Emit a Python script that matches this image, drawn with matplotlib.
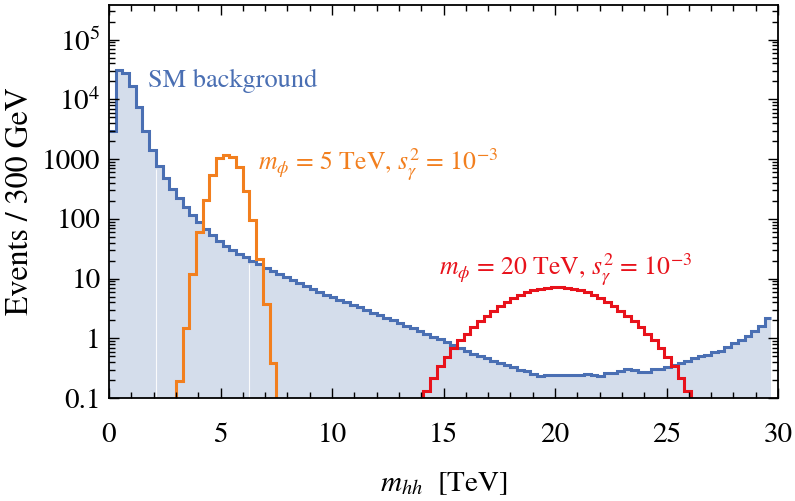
import numpy as np
import matplotlib
matplotlib.use('Agg')
from matplotlib import pyplot as plt
from matplotlib.ticker import FixedLocator, FixedFormatter, LogLocator, NullFormatter, MultipleLocator

plt.rcParams['font.family'] = ['STIXGeneral', 'DejaVu Serif']
plt.rcParams['mathtext.fontset'] = 'stix'

# histogram data, 300 GeV bins
bin_width = 0.3

# SM background, bins starting at 0 TeV
sm_start = 0.0
sm_background = [2900, 31000, 28000, 17000, 7500, 3000, 1400, 760, 480, 320,
                 220, 160, 118, 88, 68, 53, 42, 35, 30, 26,
                 22.6, 19.8, 17.4, 15.3, 13.5, 12.0, 10.6, 9.4, 8.4, 7.5,
                 6.7, 6.0, 5.4, 4.9, 4.4, 4.0, 3.6, 3.3, 3.0, 2.7,
                 2.45, 2.2, 2.0, 1.8, 1.62, 1.46, 1.32, 1.19, 1.07, 0.96,
                 0.86, 0.76, 0.68, 0.61, 0.55, 0.50, 0.46, 0.42, 0.39, 0.36,
                 0.33, 0.30, 0.28, 0.25, 0.23, 0.24, 0.245, 0.24, 0.24, 0.245,
                 0.24, 0.25, 0.24, 0.23, 0.26, 0.26, 0.28, 0.31, 0.30, 0.27,
                 0.27, 0.31, 0.31, 0.33, 0.36, 0.39, 0.42, 0.46, 0.50, 0.53,
                 0.58, 0.62, 0.72, 0.82, 0.95, 1.08, 1.30, 1.6, 2.2]

# m_phi = 5 TeV signal
sig5_start = 2.7
sig5 = [0.03, 0.19, 1.5, 12, 60, 210, 550, 1060, 1170, 1080,
        725, 295, 96, 21, 3.7, 0.38, 0.03]

# m_phi = 20 TeV signal
sig20_start = 13.8
sig20 = [0.06, 0.13, 0.22, 0.34, 0.48, 0.68, 0.92, 1.2, 1.55, 1.95,
         2.4, 2.9, 3.5, 4.1, 4.8, 5.4, 6.0, 6.5, 6.8, 7.0,
         7.1, 7.1, 7.0, 6.8, 6.5, 6.0, 5.4, 4.8, 4.1, 3.5,
         2.9, 2.4, 1.95, 1.55, 1.2, 0.92, 0.68, 0.48, 0.34, 0.22,
         0.13, 0.06]

# faint gaps in the filled background (bin edges, TeV)
fill_gaps = [2.1, 6.3]

y_ticks = [0.1, 1, 10, 100, 1000, 1e4, 1e5]
y_tick_labels = ['0.1', '1', '10', '100', '1000', '$10^4$', '$10^5$']
x_ticks = [0, 5, 10, 15, 20, 25, 30]


def edges(start, vals):
    return np.round(start + bin_width * np.arange(len(vals) + 1), 3)


blue = '#4a6fb3'
fill = '#d4ddeb'
orange = '#f27f1e'
red = '#e8121b'

fig = plt.figure(figsize=(7.95, 5.01), dpi=100)
ax = fig.add_axes([109 / 795, 1 - 398 / 501, 669 / 795, 393 / 501])

sm_edges = edges(sm_start, sm_background)
ax.stairs(sm_background, sm_edges, fill=True, baseline=1e-3, color=fill, lw=0)
for g in fill_gaps:
    i = int(round(g / bin_width))
    ax.vlines(g, 1e-3, min(sm_background[i - 1], sm_background[i]) * 0.9,
              color='white', lw=0.8, alpha=0.9)
ax.stairs(sm_background, sm_edges, baseline=None, color=blue, lw=2.2)
ax.stairs(sig5, edges(sig5_start, sig5), baseline=1e-3, color=orange, lw=2.2)
ax.stairs(sig20, edges(sig20_start, sig20), baseline=1e-3, color=red, lw=2.2)

ax.set_yscale('log')
ax.set_xlim(0, 30)
ax.set_ylim(0.1, 3.8e5)

ax.yaxis.set_major_locator(FixedLocator(y_ticks))
ax.yaxis.set_major_formatter(FixedFormatter(y_tick_labels))
ax.yaxis.set_minor_locator(LogLocator(base=10, subs=np.arange(2, 10)))
ax.yaxis.set_minor_formatter(NullFormatter())
ax.xaxis.set_major_locator(FixedLocator(x_ticks))
ax.xaxis.set_minor_locator(MultipleLocator(1))

ax.tick_params(which='both', direction='in', top=True, right=True,
               labelsize=21, width=1.0)
ax.tick_params(which='major', length=7)
ax.tick_params(which='minor', length=4)
ax.tick_params(axis='x', pad=18)
ax.tick_params(axis='y', pad=6)
for s in ax.spines.values():
    s.set_linewidth(1.3)

ax.set_xlabel(r'$m_{hh}$  [TeV]', fontsize=21, labelpad=16)
ax.set_ylabel('Events / 300 GeV', fontsize=23, labelpad=5)

ax.text(1.75, 2.0e4, 'SM background', color=blue, fontsize=19, va='center')
ax.text(6.7, 800, r'$m_\phi$ = 5 TeV, $s_\gamma^2$ = 10$^{-3}$', color=orange,
        fontsize=18.5, va='center')
ax.text(14.8, 14, r'$m_\phi$ = 20 TeV, $s_\gamma^2$ = 10$^{-3}$', color=red,
        fontsize=18.5, va='center')

fig.savefig('out.png', dpi=100)
